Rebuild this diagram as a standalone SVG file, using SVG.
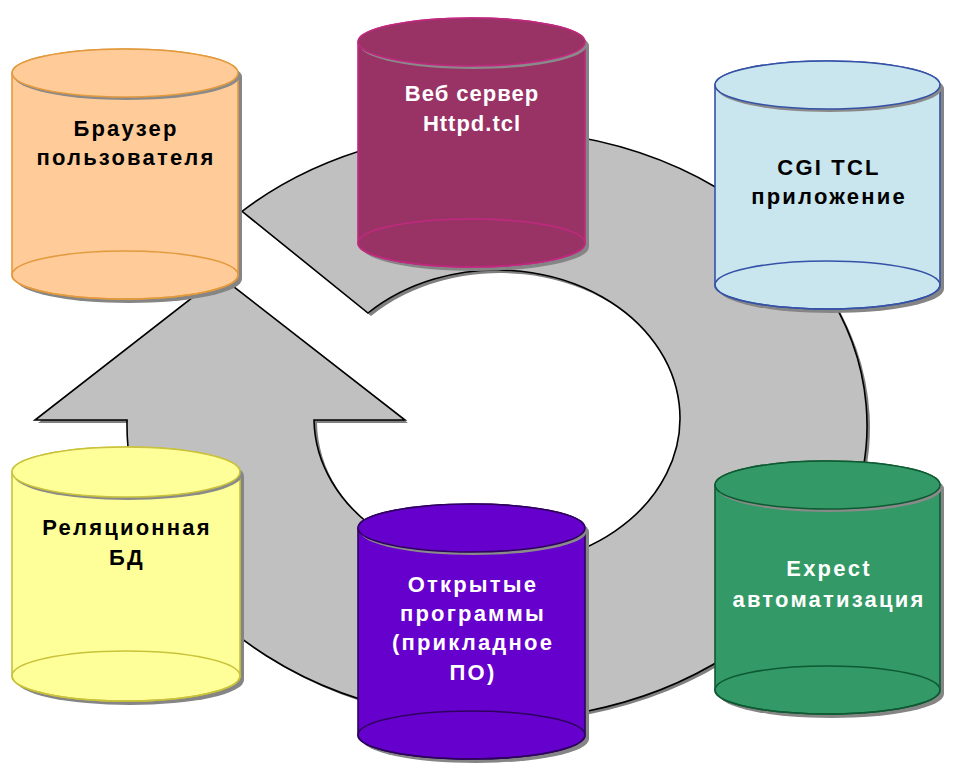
<svg xmlns="http://www.w3.org/2000/svg" width="955" height="771" viewBox="0 0 955 771">
<style>
text{font-family:"Liberation Sans",Arial,sans-serif;font-weight:bold;font-size:22px;text-anchor:middle;letter-spacing:2.2px}
.sh{fill:#858585;stroke:none}
.tsh{fill:#8a8a8a;stroke:none}
.w{fill:#ffffff}
.k{fill:#000000}
.line{fill:none;stroke-width:1.6}
.orange{fill:#FFCC99;stroke:#E39A3E;stroke-width:1.6}
.mag{fill:#993366;stroke:#C0297F;stroke-width:1.6}
.blue{fill:#C9E5EE;stroke:#3552A6;stroke-width:1.6}
.yel{fill:#FFFF99;stroke:#C9C23A;stroke-width:1.6}
.pur{fill:#6600CC;stroke:#2E005E;stroke-width:1.6}
.grn{fill:#339966;stroke:#0E5A32;stroke-width:1.6}
</style>
<g id="connectors">
<path d="M245,214 A370,295 0 1 1 130,423 L38,423 L223,279 L408,423 L317,423 A183,148 0 1 0 371,316 Z" fill="#7f7f7f"/>
<path d="M242,211.3 A370,295 0 1 1 127.05,420 L35,420 L220,276 L405,420 L314,420 A183,148 0 1 0 368,313 Z" fill="#C0C0C0" stroke="#000" stroke-width="1.6" stroke-linejoin="miter"/>
</g>
<g id="browser">
<path class="sh" d="M16,77 A113,24 0 0 1 242,77 L242,279 A113,24 0 0 1 16,279 Z"/>
<path class="orange" d="M12,73 A113,24 0 0 1 238,73 L238,275 A113,24 0 0 1 12,275 Z"/>
<ellipse class="orange" cx="125" cy="275" rx="113" ry="24" fill="none" style="fill:none"/>
<ellipse class="tsh" cx="127" cy="76" rx="113" ry="24"/>
<ellipse class="orange" cx="125" cy="73" rx="113" ry="24"/>
<text class="k" x="126" y="136">Браузер</text>
<text class="k" x="126" y="165">пользователя</text>
</g>
<g id="webserver">
<path class="sh" d="M362,46 A113.5,24 0 0 1 589,46 L589,247 A113.5,24 0 0 1 362,247 Z"/>
<path class="mag" d="M358,42 A113.5,24 0 0 1 585,42 L585,243 A113.5,24 0 0 1 358,243 Z"/>
<ellipse class="mag" cx="471.5" cy="243" rx="113.5" ry="24" style="fill:none"/>
<ellipse class="tsh" cx="473.5" cy="45" rx="113.5" ry="24"/>
<ellipse class="mag" cx="471.5" cy="42" rx="113.5" ry="24"/>
<text class="w" x="472" y="101" style="letter-spacing:1px">Веб сервер</text>
<text class="w" x="472" y="131" style="letter-spacing:1px">Httpd.tcl</text>
</g>
<g id="cgi">
<path class="sh" d="M719,89 A112.5,24 0 0 1 944,89 L944,289 A112.5,24 0 0 1 719,289 Z"/>
<path class="blue" d="M715,85 A112.5,24 0 0 1 940,85 L940,285 A112.5,24 0 0 1 715,285 Z"/>
<ellipse class="blue" cx="827.5" cy="285" rx="112.5" ry="24" style="fill:none"/>
<ellipse class="tsh" cx="829.5" cy="88" rx="112.5" ry="24"/>
<ellipse class="blue" cx="827.5" cy="85" rx="112.5" ry="24"/>
<text class="k" x="829" y="175">CGI TCL</text>
<text class="k" x="829" y="204">приложение</text>
</g>
<g id="db">
<path class="sh" d="M16,476 A114,25 0 0 1 244,476 L244,680 A114,25 0 0 1 16,680 Z"/>
<path class="yel" d="M12,472 A114,25 0 0 1 240,472 L240,676 A114,25 0 0 1 12,676 Z"/>
<ellipse class="yel" cx="126" cy="676" rx="114" ry="25" style="fill:none"/>
<ellipse class="tsh" cx="128" cy="475" rx="114" ry="25"/>
<ellipse class="yel" cx="126" cy="472" rx="114" ry="25"/>
<text class="k" x="127" y="535">Реляционная</text>
<text class="k" x="127" y="565">БД</text>
</g>
<g id="opensource">
<path class="sh" d="M362,532 A113.5,24 0 0 1 589,532 L589,739 A113.5,24 0 0 1 362,739 Z"/>
<path class="pur" d="M358,528 A113.5,24 0 0 1 585,528 L585,735 A113.5,24 0 0 1 358,735 Z"/>
<ellipse class="pur" cx="471.5" cy="735" rx="113.5" ry="24" style="fill:none"/>
<ellipse class="tsh" cx="473.5" cy="531" rx="113.5" ry="24"/>
<ellipse class="pur" cx="471.5" cy="528" rx="113.5" ry="24"/>
<text class="w" x="473" y="592">Открытые</text>
<text class="w" x="473" y="621">программы</text>
<text class="w" x="473" y="650">(прикладное</text>
<text class="w" x="473" y="680">ПО)</text>
</g>
<g id="expect">
<path class="sh" d="M719,489 A112.5,24 0 0 1 944,489 L944,694 A112.5,24 0 0 1 719,694 Z"/>
<path class="grn" d="M715,485 A112.5,24 0 0 1 940,485 L940,690 A112.5,24 0 0 1 715,690 Z"/>
<ellipse class="grn" cx="827.5" cy="690" rx="112.5" ry="24" style="fill:none"/>
<ellipse class="tsh" cx="829.5" cy="488" rx="112.5" ry="24"/>
<ellipse class="grn" cx="827.5" cy="485" rx="112.5" ry="24"/>
<text class="w" x="829" y="576">Expect</text>
<text class="w" x="829" y="607">автоматизация</text>
</g>
</svg>
